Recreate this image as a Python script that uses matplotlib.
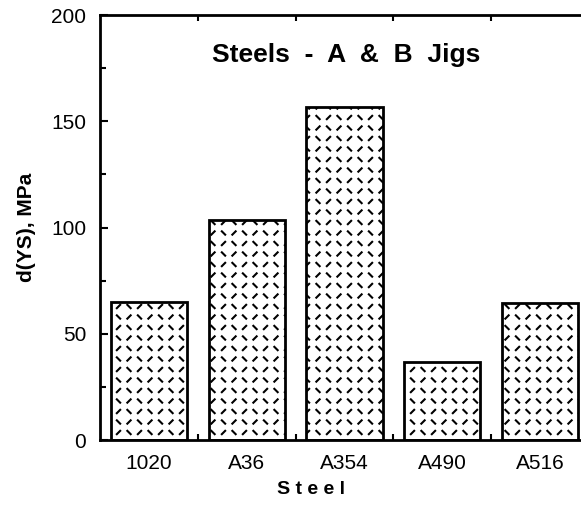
import numpy as np
import matplotlib
matplotlib.use("Agg")
import matplotlib.pyplot as plt
from matplotlib.collections import LineCollection
from matplotlib.transforms import IdentityTransform

# data
steels = ["1020", "A36", "A354", "A490", "A516"]
d_ys = [65, 103.5, 156.5, 36.5, 64.5]

plt.rcParams['font.family'] = ['Liberation Sans', 'DejaVu Sans']

fig = plt.figure(figsize=(5.81, 5.08), dpi=100)
ax = fig.add_axes([100/581, 68/508, 489/581, 425/508])

x = np.arange(len(steels))
bars = ax.bar(x, d_ys, width=0.78, color='white', edgecolor='black', linewidth=2.0, zorder=2)

# broken herringbone fill: short dashes alternating / and \ in pixel space, clipped to each bar
sp = 10.5
L = 2.4
segs = []
for i in range(int(600/sp)+2):
    for j in range(int(520/sp)+2):
        cx = i*sp + 3
        cy = j*sp + 2
        if (i + j) % 2 == 0:
            segs.append([(cx-L, cy-L), (cx+L, cy+L)])
        else:
            segs.append([(cx-L, cy+L), (cx+L, cy-L)])
for b in bars:
    lc = LineCollection(segs, colors='black', linewidths=1.5, transform=IdentityTransform(), zorder=3)
    ax.add_collection(lc, autolim=False)
    lc.set_clip_path(b)

ax.set_xlim(-0.5, 4.5)
ax.set_ylim(0, 200)
ax.set_yticks([0, 50, 100, 150, 200])
ax.set_yticks([25, 75, 125, 175], minor=True)
ax.set_xticks(x)
ax.set_xticklabels(steels)
ax.set_xticks([0.5, 1.5, 2.5, 3.5], minor=True)

ax.tick_params(axis='y', which='both', direction='in', left=True, right=False, labelsize=15, pad=10, width=1.5)
ax.tick_params(axis='y', which='major', length=6)
ax.tick_params(axis='y', which='minor', length=4)
ax.tick_params(axis='x', which='major', length=0, labelsize=15, pad=10)
ax.tick_params(axis='x', which='minor', direction='in', top=True, bottom=True, length=4, width=1.5)

for s in ['left', 'bottom', 'top']:
    ax.spines[s].set_linewidth(2.0)
ax.spines['right'].set_visible(False)

ax.text(0.503, 0.905, "Steels  -  A  &  B  Jigs", transform=ax.transAxes, ha='center', va='center',
        fontsize=19, fontweight='bold')
ax.set_ylabel("d(YS), MPa", fontsize=15, fontweight='bold')
ax.yaxis.set_label_coords(-0.13, 0.5)
fig.text(311/581, 1 - 490/508, "S t e e l", ha='center', va='center', fontsize=14, fontweight='bold')

fig.savefig("out.png", dpi=100)
